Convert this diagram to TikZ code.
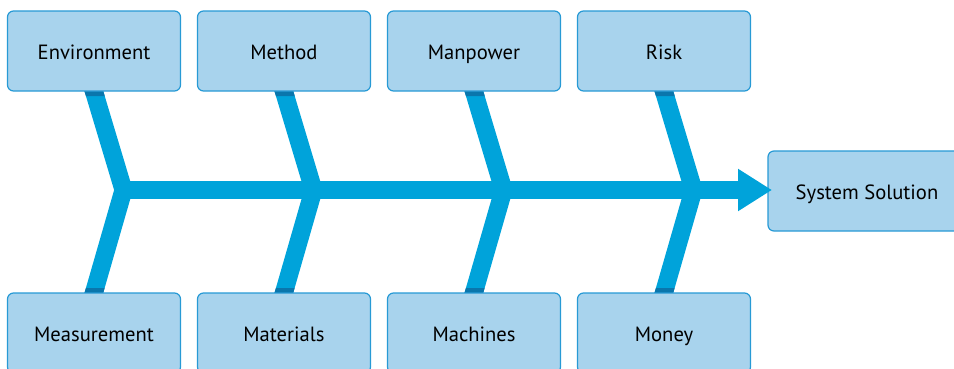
\documentclass[tikz,border=0pt]{standalone}
\usepackage{fontspec}
\setmainfont{PT Sans}
\usetikzlibrary{arrows.meta,calc}
\definecolor{boxfill}{RGB}{168,211,237}
\definecolor{boxline}{RGB}{39,154,213}
\definecolor{bonecol}{RGB}{0,163,218}
\definecolor{bonedark}{RGB}{10,118,172}
\pgfdeclarelayer{background}
\pgfsetlayers{background,main}
\begin{document}
\begin{tikzpicture}[x=1pt,y=-1pt,
  causebox/.style={draw=boxline, fill=boxfill, line width=1.2pt, rounded corners=6pt,
    minimum width=173pt, minimum height=80pt, inner sep=0pt,
    font=\fontsize{20.6}{22}\selectfont, text=black, text height=16.5pt, text depth=0pt},
  bone/.style={draw=bonecol, line width=18pt, line cap=butt, line join=miter},
  spine/.style={draw=bonecol, line width=18pt, -{Triangle[length=34pt,width=40pt]}}]
\useasboundingbox (0,0) rectangle (954,368);
% cause boxes
\node[causebox] (env)  at (94,51)  {Environment};
\node[causebox] (meth) at (284,51) {Method};
\node[causebox] (man)  at (474,51) {Manpower};
\node[causebox] (risk) at (664,51) {Risk};
\node[causebox] (meas) at (94,333)  {Measurement};
\node[causebox] (mat)  at (284,333) {Materials};
\node[causebox] (mach) at (474,333) {Machines};
\node[causebox] (mon)  at (664,333) {Money};
\node[causebox, minimum width=198pt] (sol) at (867,191) {System Solution};
% junctions on the spine
\coordinate (j1) at (123.5,190);
\coordinate (j2) at (313.5,190);
\coordinate (j3) at (503.5,190);
\coordinate (j4) at (693.5,190);
\coordinate (tip) at (772,190);
% bones, under the boxes
\begin{pgfonlayer}{background}
  \foreach \t/\j/\b in {env/j1/meas,meth/j2/mat,man/j3/mach,risk/j4/mon}{
    \draw[bone] ($(\j)!1.15!(\t.south)$) -- (\j) -- ($(\j)!1.15!(\b.north)$);
  }
  \begin{scope}
    \clip (0,90) rectangle (954,96) (0,288) rectangle (954,294);
    \foreach \t/\j/\b in {env/j1/meas,meth/j2/mat,man/j3/mach,risk/j4/mon}{
      \draw[bone, draw=bonedark] ($(\j)!1.15!(\t.south)$) -- (\j) -- ($(\j)!1.15!(\b.north)$);
    }
  \end{scope}
\end{pgfonlayer}
% spine with arrow head
\draw[spine] (j1) -- (tip);
\end{tikzpicture}
\end{document}
